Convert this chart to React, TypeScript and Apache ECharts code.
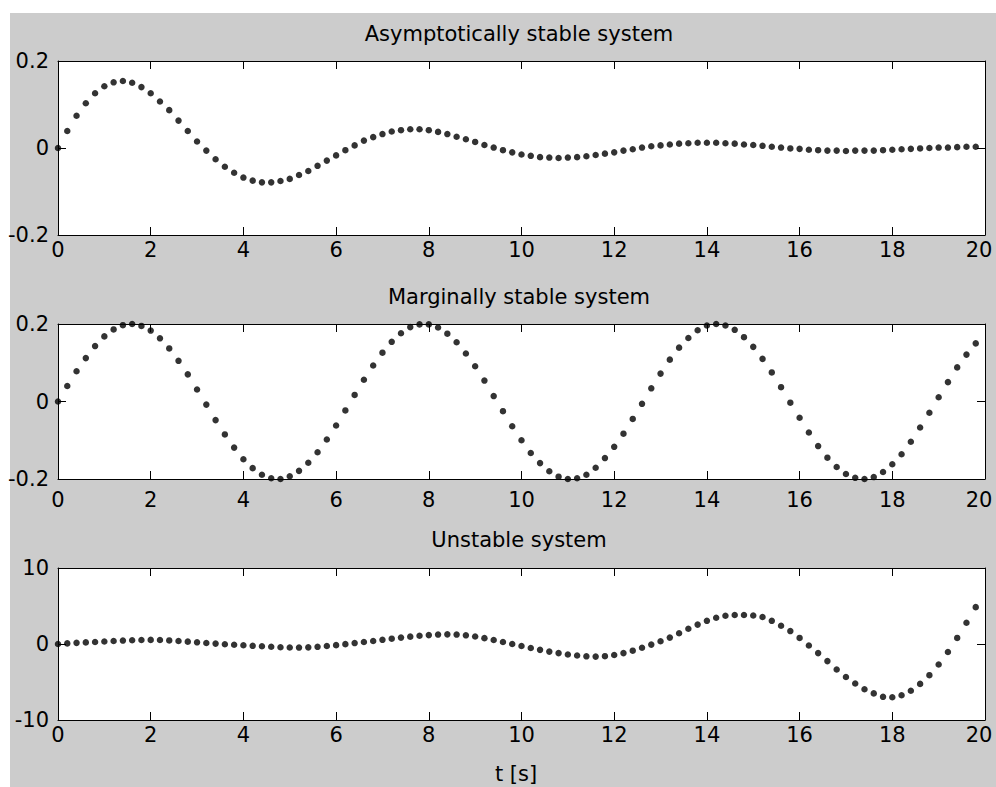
import React, { useEffect, useRef } from "react";
import * as echarts from "echarts";

const tValues = [
  0, 0.2, 0.4, 0.6, 0.8, 1.0, 1.2, 1.4, 1.6, 1.8,
  2.0, 2.2, 2.4, 2.6, 2.8, 3.0, 3.2, 3.4, 3.6, 3.8,
  4.0, 4.2, 4.4, 4.6, 4.8, 5.0, 5.2, 5.4, 5.6, 5.8,
  6.0, 6.2, 6.4, 6.6, 6.8, 7.0, 7.2, 7.4, 7.6, 7.8,
  8.0, 8.2, 8.4, 8.6, 8.8, 9.0, 9.2, 9.4, 9.6, 9.8,
  10.0, 10.2, 10.4, 10.6, 10.8, 11.0, 11.2, 11.4, 11.6, 11.8,
  12.0, 12.2, 12.4, 12.6, 12.8, 13.0, 13.2, 13.4, 13.6, 13.8,
  14.0, 14.2, 14.4, 14.6, 14.8, 15.0, 15.2, 15.4, 15.6, 15.8,
  16.0, 16.2, 16.4, 16.6, 16.8, 17.0, 17.2, 17.4, 17.6, 17.8,
  18.0, 18.2, 18.4, 18.6, 18.8, 19.0, 19.2, 19.4, 19.6, 19.8,
];

const asymptoticValues = [
  0, 0.039, 0.074, 0.103, 0.126, 0.142, 0.151, 0.154, 0.150, 0.140,
  0.126, 0.107, 0.087, 0.063, 0.039, 0.015, -0.006, -0.026, -0.043, -0.057,
  -0.068, -0.075, -0.079, -0.079, -0.076, -0.071, -0.062, -0.053, -0.041, -0.029,
  -0.017, -0.005, 0.006, 0.017, 0.025, 0.032, 0.038, 0.041, 0.043, 0.043,
  0.041, 0.037, 0.032, 0.026, 0.020, 0.014, 0.007, 0.001, -0.005, -0.010,
  -0.015, -0.018, -0.021, -0.022, -0.023, -0.022, -0.021, -0.019, -0.016, -0.013,
  -0.010, -0.006, -0.003, 0.001, 0.004, 0.006, 0.008, 0.010, 0.011, 0.012,
  0.012, 0.012, 0.011, 0.010, 0.008, 0.007, 0.005, 0.003, 0.001, -0.001,
  -0.002, -0.004, -0.005, -0.006, -0.006, -0.007, -0.006, -0.006, -0.006, -0.005,
  -0.004, -0.003, -0.002, -0.001, 0.000, 0.001, 0.001, 0.002, 0.003, 0.003,
];

const marginalValues = [
  0, 0.040, 0.078, 0.112, 0.143, 0.168, 0.186, 0.197, 0.200, 0.195,
  0.183, 0.163, 0.137, 0.105, 0.070, 0.031, -0.008, -0.048, -0.085, -0.119,
  -0.149, -0.172, -0.189, -0.198, -0.200, -0.193, -0.179, -0.158, -0.131, -0.098,
  -0.062, -0.023, 0.017, 0.056, 0.093, 0.126, 0.154, 0.176, 0.192, 0.199,
  0.199, 0.191, 0.175, 0.153, 0.124, 0.091, 0.054, 0.014, -0.025, -0.064,
  -0.100, -0.133, -0.159, -0.180, -0.194, -0.200, -0.198, -0.189, -0.171, -0.146,
  -0.117, -0.083, -0.045, -0.006, 0.034, 0.072, 0.108, 0.139, 0.164, 0.184,
  0.196, 0.200, 0.196, 0.185, 0.166, 0.141, 0.110, 0.075, 0.037, -0.003,
  -0.042, -0.080, -0.115, -0.145, -0.169, -0.187, -0.197, -0.200, -0.195, -0.182,
  -0.162, -0.136, -0.104, -0.067, -0.029, 0.011, 0.050, 0.088, 0.121, 0.150,
];

const unstableValues = [
  0, 0.08, 0.15, 0.21, 0.27, 0.33, 0.39, 0.45, 0.5, 0.53,
  0.54, 0.52, 0.47, 0.4, 0.31, 0.22, 0.13, 0.05, -0.03, -0.1,
  -0.17, -0.24, -0.3, -0.36, -0.42, -0.46, -0.47, -0.44, -0.37, -0.27,
  -0.15, -0.02, 0.12, 0.26, 0.4, 0.55, 0.7, 0.84, 0.97, 1.08,
  1.17, 1.24, 1.27, 1.24, 1.14, 0.98, 0.77, 0.52, 0.26, 0.0,
  -0.26, -0.52, -0.77, -1.0, -1.2, -1.38, -1.52, -1.62, -1.66, -1.6,
  -1.45, -1.2, -0.88, -0.5, -0.08, 0.36, 0.84, 1.42, 2.0, 2.55,
  3.05, 3.45, 3.72, 3.82, 3.82, 3.75, 3.55, 3.05, 2.4, 1.7,
  0.8, -0.2, -1.2, -2.25, -3.35, -4.35, -5.2, -5.95, -6.5, -6.95,
  -7.0, -6.75, -6.15, -5.25, -4.1, -2.7, -1.05, 0.8, 2.8, 4.85,
];

const xTicks = { min: 0, max: 20, interval: 2 };
const panelTitles = ["Asymptotically stable system", "Marginally stable system", "Unstable system"];
const yRanges = [
  { min: -0.2, max: 0.2, interval: 0.2 },
  { min: -0.2, max: 0.2, interval: 0.2 },
  { min: -10, max: 10, interval: 10 },
];
const xAxisTitle = "t [s]";

const FONT = "DejaVu Sans";
const FS = 21;

export default function App() {
  const ref = useRef<HTMLDivElement>(null);
  useEffect(() => {
    if (!ref.current) return;
    const chart = echarts.init(ref.current, undefined, { renderer: "svg" });

    // container spans page x 0..996; the grey figure area starts at x = 10
    const grids = [
      { left: 58, right: 11, top: 48, height: 174 },
      { left: 58, right: 11, top: 311, height: 155 },
      { left: 58, right: 11, top: 555, height: 152 },
    ];
    const xLabelMargins = [4, 10, 4];
    const titleY = [21, 284, 527];

    const line = { show: true, lineStyle: { color: "#000", width: 1 } };
    const tick = { show: true, inside: true, length: 8, lineStyle: { color: "#000", width: 1 } };
    const label = { fontFamily: FONT, fontSize: FS, color: "#000" };

    const xAxis: any[] = [];
    const yAxis: any[] = [];
    const series: any[] = [];
    const seriesData = [asymptoticValues, marginalValues, unstableValues];

    grids.forEach((g, i) => {
      xAxis.push({
        type: "value", gridIndex: i, position: "bottom", ...xTicks,
        axisLine: { ...line, onZero: false }, axisTick: tick, splitLine: { show: false },
        axisLabel: {
          ...label,
          margin: xLabelMargins[i],
          formatter: (v: number) => (v === xTicks.max ? `{r|${v}}` : `${v}`),
          rich: { r: { ...label, padding: [0, 12, 0, 0] } },
        },
      });
      xAxis.push({
        type: "value", gridIndex: i, position: "top", ...xTicks,
        axisLine: { ...line, onZero: false }, axisTick: tick, splitLine: { show: false },
        axisLabel: { show: false },
      });
      yAxis.push({
        type: "value", gridIndex: i, position: "left", ...yRanges[i],
        axisLine: { ...line, onZero: false }, axisTick: tick, splitLine: { show: false },
        axisLabel: { ...label, margin: 9 },
      });
      yAxis.push({
        type: "value", gridIndex: i, position: "right", ...yRanges[i],
        axisLine: { ...line, onZero: false }, axisTick: tick, splitLine: { show: false },
        axisLabel: { show: false },
      });
      series.push({
        type: "scatter",
        xAxisIndex: i * 2,
        yAxisIndex: i * 2,
        symbol: "circle",
        symbolSize: 6.5,
        itemStyle: { color: "#000" },
        data: tValues.map((t, j) => [t, seriesData[i][j]]),
      });
    });

    const graphics: any[] = [
      {
        type: "rect",
        z: -10,
        silent: true,
        shape: { x: 10, y: 0, width: 986, height: 774 },
        style: { fill: "#cccccc" },
      },
    ];
    panelTitles.forEach((text, i) => {
      graphics.push({
        type: "text",
        x: 519,
        y: titleY[i],
        style: { text, font: `${FS}px "${FONT}"`, fill: "#000", textAlign: "center", textVerticalAlign: "middle", verticalAlign: "middle" },
      });
    });
    graphics.push({
      type: "text",
      x: 516,
      y: 761,
      style: { text: xAxisTitle, font: `${FS}px "${FONT}"`, fill: "#000", textAlign: "center", textVerticalAlign: "middle", verticalAlign: "middle" },
    });

    chart.setOption({
      animation: false,
      backgroundColor: "transparent",
      grid: grids.map((g) => ({
        ...g, show: true, backgroundColor: "#ffffff", borderWidth: 0,
        containLabel: false, outerBoundsMode: "none",
      })),
      xAxis,
      yAxis,
      series,
      graphic: graphics,
    });
    return () => chart.dispose();
  }, []);

  return (
    <div
      ref={ref}
      style={{ position: "absolute", left: 0, top: 13, width: 996, height: 774 }}
    />
  );
}
